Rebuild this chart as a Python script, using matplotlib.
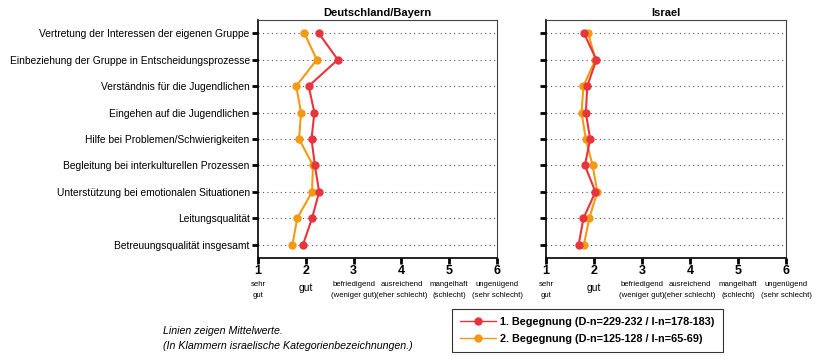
import numpy as np
import matplotlib
matplotlib.use("Agg")
from matplotlib import pyplot as plt
from matplotlib.lines import Line2D

plt.rcParams['font.family'] = ['Liberation Sans', 'DejaVu Sans']

# categories, top to bottom
items = ["Vertretung der Interessen der eigenen Gruppe",
         "Einbeziehung der Gruppe in Entscheidungsprozesse",
         "Verständnis für die Jugendlichen",
         "Eingehen auf die Jugendlichen",
         "Hilfe bei Problemen/Schwierigkeiten",
         "Begleitung bei interkulturellen Prozessen",
         "Unterstützung bei emotionalen Situationen",
         "Leitungsqualität",
         "Betreuungsqualität insgesamt"]

# Deutschland/Bayern means
de_first = [2.27, 2.67, 2.06, 2.18, 2.12, 2.19, 2.28, 2.13, 1.94]
de_second = [1.97, 2.23, 1.80, 1.90, 1.86, 2.15, 2.13, 1.82, 1.72]
# Israel means
il_first = [1.79, 2.05, 1.86, 1.83, 1.92, 1.81, 2.03, 1.78, 1.68]
il_second = [1.88, 2.03, 1.78, 1.74, 1.83, 1.97, 2.07, 1.90, 1.79]

grades = [1, 2, 3, 4, 5, 6]
grade_text = ["sehr\ngut", "gut", "befriedigend\n(weniger gut)", "ausreichend\n(eher schlecht)",
              "mangelhaft\n(schlecht)", "ungenügend\n(sehr schlecht)"]

label_first = "1. Begegnung (D-n=229-232 / I-n=178-183)"
label_second = "2. Begegnung (D-n=125-128 / I-n=65-69)"

red = "#e8343c"
orange = "#f39a14"

fig = plt.figure(figsize=(8.22, 3.6), dpi=100)
ax1 = fig.add_axes([258/822, 1-258/360, 239/822, 238/360])
ax2 = fig.add_axes([546/822, 1-258/360, 240/822, 238/360])

ypos = np.arange(len(items))

def setup(ax, title, first, second, show_labels):
    ax.plot(first, ypos, color=red, lw=1.5, marker='o', ms=5, zorder=3)
    ax.plot(second, ypos, color=orange, lw=1.5, marker='o', ms=5, zorder=2)
    ax.set_xlim(1, 6)
    ax.set_ylim(len(items) - 0.5, -0.5)
    ax.set_yticks(ypos)
    if show_labels:
        ax.set_yticklabels(items, fontsize=7.4)
    else:
        ax.set_yticklabels([])
    ax.set_xticks(grades)
    ax.set_xticklabels([str(g) for g in grades], fontsize=9, fontweight='bold')
    ax.tick_params(axis='both', direction='out', width=2, length=4, color='black')
    ax.tick_params(axis='x', pad=1)
    ax.tick_params(axis='y', pad=2)
    ax.grid(axis='y', ls=(0, (1, 3)), color='#555555', lw=0.8)
    ax.set_axisbelow(True)
    for s in ['top', 'right']:
        ax.spines[s].set_color('#444444')
    for s in ['left', 'bottom']:
        ax.spines[s].set_color('black')
        ax.spines[s].set_linewidth(1.2)
    ax.set_title(title, fontsize=8, fontweight='bold', pad=3)
    trans = ax.get_xaxis_transform()
    for g, t in zip(grades, grade_text):
        if t == "gut":
            ax.text(g, -0.125, t, transform=trans, ha='center', va='center', fontsize=7.5)
        else:
            ax.text(g, -0.135, t, transform=trans, ha='center', va='center', fontsize=5.6,
                    linespacing=1.9)

setup(ax1, "Deutschland/Bayern", de_first, de_second, True)
setup(ax2, "Israel", il_first, il_second, False)

handles = [Line2D([], [], color=red, lw=1, marker='o', ms=5),
           Line2D([], [], color=orange, lw=1, marker='o', ms=5)]
leg = fig.legend(handles, [label_first, label_second], loc='upper left',
                 bbox_to_anchor=(450/822, 1-307/360), frameon=True, fancybox=False,
                 prop={'size': 7.8, 'weight': 'bold'}, handlelength=3.3, borderpad=0.75,
                 labelspacing=0.6, handletextpad=0.4, borderaxespad=0.2)
leg.get_frame().set_edgecolor('black')
leg.get_frame().set_linewidth(0.8)

fig.text(163/822, 1-331/360, "Linien zeigen Mittelwerte.", fontsize=7.7, style='italic', va='center')
fig.text(163/822, 1-346/360, "(In Klammern israelische Kategorienbezeichnungen.)", fontsize=7.7,
         style='italic', va='center')

fig.savefig("out.png", dpi=100)
